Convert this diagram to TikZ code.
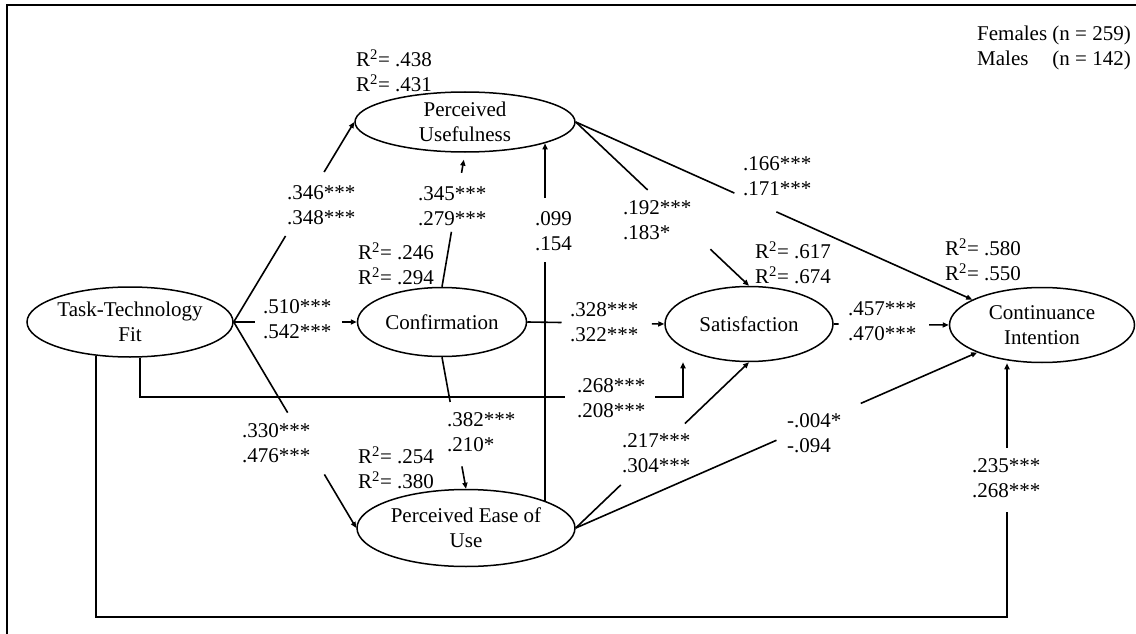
\documentclass[tikz,border=0pt]{standalone}
\usepackage{fontspec}
\setmainfont{Liberation Serif}
\usetikzlibrary{shapes.geometric,arrows.meta,calc}

\begin{document}
\begin{tikzpicture}[x=1pt,y=-1pt,
  font=\fontsize{21}{25}\selectfont,
  construct/.style={ellipse,draw,line width=1.5pt,inner sep=0pt,align=center},
  link/.style={line width=1.6pt},
  arr/.style={link,-{Triangle[length=6pt,width=5pt]}},
  coef/.style={align=left,inner sep=0pt,anchor=west},
  rsq/.style={align=left,inner sep=0pt,anchor=west},
]
\useasboundingbox (0,0) rectangle (1136,634);

% outer frame
\draw[line width=1.8pt] (7,650) -- (7,5) -- (1150,5);

% constructs
\node[construct,minimum width=206,minimum height=70] (ttf) at (130,322) {Task-Technology\\Fit};
\node[construct,minimum width=220,minimum height=60] (pu) at (465,122) {Perceived\\Usefulness};
\node[construct,minimum width=169,minimum height=69] (conf) at (442,322) {Confirmation};
\node[construct,minimum width=168,minimum height=75] (sat) at (749,324) {Satisfaction};
\node[construct,minimum width=185,minimum height=75] (ci) at (1042,325) {Continuance\\Intention};
\node[construct,minimum width=218,minimum height=77] (peou) at (466,528) {Perceived Ease of\\Use};

% explained variance
\node[rsq] (rpu) at (356,71) {R\textsuperscript{2}= .438\\R\textsuperscript{2}= .431};
\node[rsq] (rconf) at (358,264) {R\textsuperscript{2}= .246\\R\textsuperscript{2}= .294};
\node[rsq] (rsat) at (755,263) {R\textsuperscript{2}= .617\\R\textsuperscript{2}= .674};
\node[rsq] (rci) at (945,260) {R\textsuperscript{2}= .580\\R\textsuperscript{2}= .550};
\node[rsq] (rpeou) at (358,468) {R\textsuperscript{2}= .254\\R\textsuperscript{2}= .380};

% group sizes
\node[inner sep=0pt,anchor=east] (legend) at (1131,48)
  {\begin{tabular}{@{}l@{\ }r@{}}Females & (n = 259)\\Males & (n = 142)\end{tabular}};

% TTF -> PU
\draw[link] (ttf.east) -- ($(ttf.east)!0.43!(pu.west)$);
\draw[arr] ($(ttf.east)!0.75!(pu.west)$) -- (pu.west);
\node[coef] (l1) at (287,205) {.346***\\.348***};

% TTF -> Confirmation
\draw[link] (ttf.east) -- ($(ttf.east)!0.17!(conf.west)$);
\draw[arr] ($(ttf.east)!0.88!(conf.west)$) -- (conf.west);
\node[coef] (l2) at (263,319) {.510***\\.542***};

% TTF -> PEOU
\draw[link] (ttf.east) -- ($(ttf.east)!0.44!(peou.west)$);
\draw[arr] ($(ttf.east)!0.74!(peou.west)$) -- (peou.west);
\node[coef] (l3) at (242,443) {.330***\\.476***};

% TTF -> Satisfaction (elbow below)
\coordinate (g4a) at (565,397);
\coordinate (g4b) at (655,397);
\coordinate (c4) at (683,397);
\draw[link] ($(ttf.south)+(10,0)$) |- (g4a);
\draw[arr] (g4b) -- (c4) -- (c4 |- sat.south);
\node[coef] (l4) at (577,398) {.268***\\.208***};

% TTF -> CI (loop along the bottom)
\coordinate (c5) at (1007,617);
\coordinate (g5a) at (1007,512);
\coordinate (g5b) at (1007,448);
\draw[link] (ttf.225) |- (c5) -- (g5a);
\draw[arr] (g5b) -- (g5b |- ci.south);
\node[coef] (l5) at (972,478) {.235***\\.268***};

% Confirmation -> PU
\draw[link] (conf.north) -- ($(conf.north)!0.41!(pu.south)$);
\draw[arr,shorten >=7pt] ($(conf.north)!0.85!(pu.south)$) -- (pu.south);
\node[coef] (l6) at (418,206) {.345***\\.279***};

% Confirmation -> Satisfaction
\draw[link] (conf.east) -- ($(conf.east)!0.25!(sat.west)$);
\draw[arr] ($(conf.east)!0.91!(sat.west)$) -- (sat.west);
\node[coef] (l7) at (570,322) {.328***\\.322***};

% Confirmation -> PEOU
\draw[link] (conf.south) -- ($(conf.south)!0.34!(peou.north)$);
\draw[arr] ($(conf.south)!0.83!(peou.north)$) -- (peou.north);
\node[coef] (l8) at (447,432) {.382***\\.210*};

% PEOU -> PU (vertical)
\coordinate (g9a) at (543,262);
\coordinate (g9b) at (543,198);
\draw[link] (peou.19) -- (peou.19 |- g9a);
\draw[arr] (peou.19 |- g9b) -- (peou.19 |- pu.-15);
\node[coef] (l9) at (535,231) {.099\\.154};

% PU -> Satisfaction
\draw[link] (pu.east) -- ($(pu.east)!0.415!(sat.north)$);
\draw[arr] ($(pu.east)!0.777!(sat.north)$) -- (sat.north);
\node[coef] (l10) at (623,220) {.192***\\.183*};

% PU -> CI
\draw[link] (pu.east) -- ($(pu.east)!0.40!(ci.160)$);
\draw[arr] ($(pu.east)!0.506!(ci.160)$) -- (ci.160);
\node[coef] (l11) at (743,176) {.166***\\.171***};

% Satisfaction -> CI
\draw[link] (sat.east) -- ($(sat.east)!0.043!(ci.west)$);
\draw[arr] ($(sat.east)!0.83!(ci.west)$) -- (ci.west);
\node[coef] (l12) at (848,321) {.457***\\.470***};

% PEOU -> Satisfaction
\draw[link] (peou.east) -- ($(peou.east)!0.26!(sat.south)$);
\draw[arr] ($(peou.east)!0.63!(sat.south)$) -- (sat.south);
\node[coef] (l13) at (622,453) {.217***\\.304***};

% PEOU -> CI
\draw[link] (peou.east) -- ($(peou.east)!0.50!(ci.203)$);
\draw[arr] ($(peou.east)!0.71!(ci.203)$) -- (ci.203);
\node[coef] (l14) at (787,433) {-.004*\\-.094};
\end{tikzpicture}
\end{document}
